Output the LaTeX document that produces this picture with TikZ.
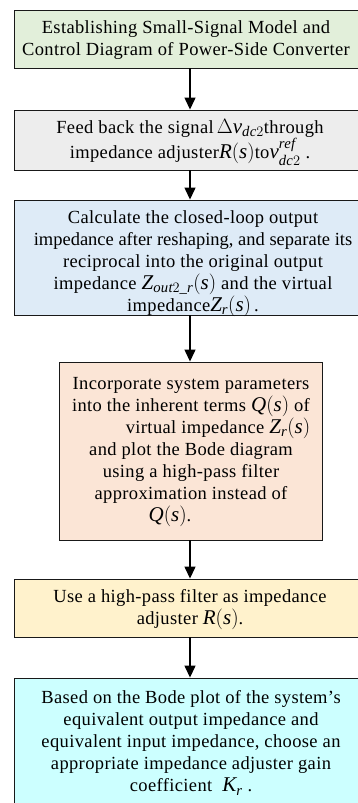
\documentclass[tikz,border=0pt]{standalone}
\usepackage{amsmath}
\usepackage{fontspec}
\setmainfont{Liberation Serif}[LetterSpace=2]
\usetikzlibrary{arrows.meta}
\definecolor{cgreen}{HTML}{E2EFDA}
\definecolor{cgrey}{HTML}{EDEDED}
\definecolor{cblue}{HTML}{DEEBF7}
\definecolor{cpeach}{HTML}{FBE5D6}
\definecolor{cyellow}{HTML}{FFF2CC}
\definecolor{ccyan}{HTML}{CCFFFF}
\newcommand{\mqq}[1]{{\fontsize{21}{22}\selectfont #1}}
\begin{document}
\begin{tikzpicture}[x=1pt,y=-1pt,
  box/.style={draw=black!90, line width=0.9pt, rectangle, inner sep=0pt},
  txt/.style={align=center, font=\fontsize{18.5}{22}\selectfont, inner sep=0pt},
  arr/.style={line width=1.3pt, -{Triangle[width=11pt,length=12pt]}}]
\useasboundingbox (0,0) rectangle (358,803);
\node[box, fill=cgreen, minimum width=352pt, minimum height=58pt] (b1) at (190,39) {};
\node[txt] (t1) at (186,40) {Establishing Small-Signal Model and\\Control Diagram of Power-Side Converter};
\node[box, fill=cgrey, minimum width=352pt, minimum height=60pt] (b2) at (190,140) {};
\node[txt] (t2) at (190,142) {Feed back the signal\,\mqq{$\Delta\textit{v}_{\textit{dc}2}$}through\\impedance adjuster\mqq{$\textit{R}(\textit{s})$}to\mqq{$\textit{v}^{\textit{ref}}_{\textit{dc}2}$}\ .};
\node[box, fill=cblue, minimum width=352pt, minimum height=115pt] (b3) at (190,257.5) {};
\node[txt] (t3) at (193,264) {Calculate the closed-loop output\\{\addfontfeature{LetterSpace=0}impedance after reshaping, and separate its}\\reciprocal into the original output\\impedance \mqq{$\textit{Z}_{\textit{out}2\_\textit{r}}(\textit{s})$} and the virtual\\impedance\mqq{$\textit{Z}_{\textit{r}}(\textit{s})$}\,.};
\node[box, fill=cpeach, minimum width=263pt, minimum height=178pt] (b4) at (190.5,451) {};
\node[txt] (t4) at (191,452) {Incorporate system parameters\\into the inherent terms \mqq{$\textit{Q}(\textit{s})$} of\\\hspace*{54pt}virtual impedance \mqq{$\textit{Z}_{\textit{r}}(\textit{s})$}\\and plot the Bode diagram\\using a high-pass filter\\approximation instead of\\\mqq{$\textit{Q}(\textit{s})$}.\hspace*{42pt}};
\node[box, fill=cyellow, minimum width=352pt, minimum height=58pt] (b5) at (190,608) {};
\node[txt] (t5) at (190,609.5) {Use a high-pass filter as impedance\\adjuster \mqq{$\textit{R}(\textit{s})$}.};
\node[box, fill=ccyan, minimum width=352pt, minimum height=128pt] (b6) at (190,742) {};
\node[txt] (t6) at (191,743) {Based on the Bode plot of the system's\\equivalent output impedance and\\equivalent input impedance, choose an\\appropriate impedance adjuster gain\\coefficient \ \mqq{$\textit{K}_{\textit{r}}$}\ .};
\draw[arr] (b1.south -| 190,0) -- (b2.north -| 190,0);
\draw[arr] (b2.south -| 190,0) -- (b3.north -| 190,0);
\draw[arr] (b3.south -| 190,0) -- (b4.north -| 190,0);
\draw[arr] (b4.south -| 190,0) -- (b5.north -| 190,0);
\draw[arr] (b5.south -| 190,0) -- (b6.north -| 190,0);
\end{tikzpicture}
\end{document}
